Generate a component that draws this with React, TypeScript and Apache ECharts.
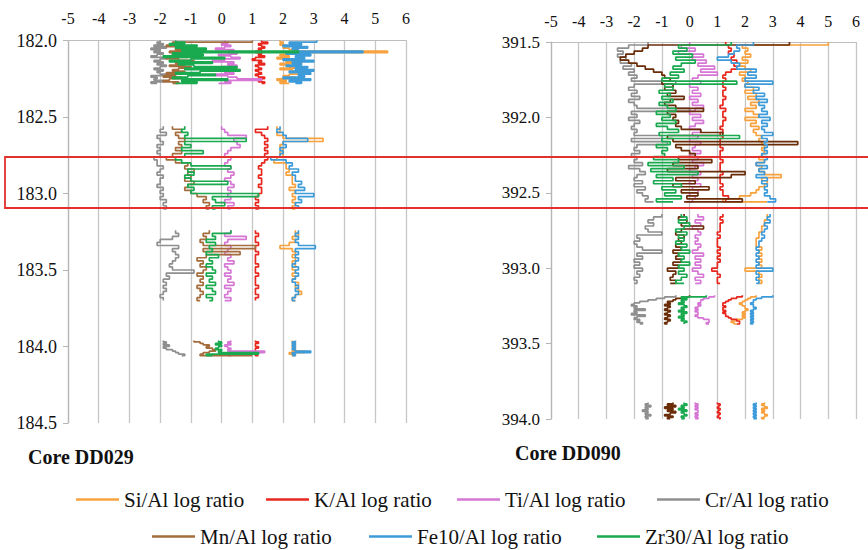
import React, { useEffect, useRef } from "react";
import * as echarts from "echarts";

const SERIES_NAMES = [
  "Si/Al log ratio",
  "K/Al log ratio",
  "Ti/Al log ratio",
  "Cr/Al log ratio",
  "Mn/Al log ratio",
  "Fe10/Al log ratio",
  "Zr30/Al log ratio",
];
const COLORS_DD029 = ["#f7a23e", "#e8281f", "#d676d5", "#8f8f8f", "#a56c3c", "#3d9bd9", "#19a94f"];
const COLORS_DD090 = ["#f7a23e", "#e8281f", "#d676d5", "#8f8f8f", "#6a2d08", "#3d9bd9", "#19a94f"];
const X_TICKS_MIN = -5;
const X_TICKS_MAX = 6;
const CORE_LABELS = ["Core DD029", "Core DD090"];

// ---------- Core DD029 (depth in m, four logged intervals) ----------
const dd029Depths = [
  [182.0, 182.01, 182.02, 182.03, 182.04, 182.05, 182.06, 182.07, 182.08, 182.09, 182.1, 182.11, 182.12, 182.13, 182.14, 182.15, 182.16, 182.17, 182.18, 182.19, 182.2, 182.21, 182.22, 182.23, 182.24, 182.25, 182.26, 182.27, 182.28],
  [182.56, 182.58, 182.6, 182.62, 182.64, 182.66, 182.68, 182.7, 182.72, 182.74, 182.76, 182.78, 182.8, 182.82, 182.84, 182.86, 182.88, 182.9, 182.92, 182.94, 182.96, 182.98, 183.0, 183.02, 183.04, 183.06, 183.08, 183.1],
  [183.24, 183.26, 183.28, 183.3, 183.32, 183.34, 183.36, 183.38, 183.4, 183.42, 183.44, 183.46, 183.48, 183.5, 183.52, 183.54, 183.56, 183.58, 183.6, 183.62, 183.64, 183.66, 183.68, 183.7],
  [183.96, 183.97, 183.98, 183.99, 184.0, 184.01, 184.02, 184.03, 184.04, 184.05, 184.06],
];
const dd029Si = [
  [1.9, 2.0, 1.9, 2.1, 2.0, 2.2, 2.4, 5.4, 2.3, 1.9, 2.2, 1.8, 2.4, 2.1, 2.6, 1.9, 2.2, 2.5, 1.9, 2.3, 2.7, 2.5, 2.2, 2.0, 2.4, 1.8, 2.1, 1.9, 2.2],
  [1.8, 1.9, 1.8, 2.0, 3.3, 2.0, 1.9, 2.0, 1.9, 2.0, 1.8, 1.7, 2.1, 2.1, 2.2, 2.1, 2.3, 2.3, 2.3, 2.4, 2.2, 2.4, 2.3, 2.4, 2.3, 2.4, 2.3, 2.4],
  [2.4, 2.5, 2.3, 2.4, 2.2, 1.9, 2.3, 2.4, 2.3, 2.4, 2.3, 2.4, 2.3, 2.4, 2.3, 2.4, 2.3, 2.5, 2.4, 2.5, 2.6, 2.4, 2.3, 2.4],
  [2.3, 2.4, 2.3, 2.4, 2.3, 2.4, 2.3, 2.7, 2.2, 2.3, 2.4],
];
const dd029K = [
  [1.3, 1.5, 1.2, 1.3, 1.4, 1.2, 1.3, 1.1, 1.3, 1.2, 1.4, 1.1, 1.0, 1.3, 1.2, 1.4, 1.1, 1.2, 1.3, 1.1, 1.2, 1.3, 1.1, 1.2, 1.4, 1.3, 1.2, 1.4, 1.3],
  [1.5, 1.1, 1.3, 1.4, 1.5, 1.4, 1.5, 1.4, 1.5, 1.4, 1.5, 1.4, 1.3, 1.2, 1.3, 1.3, 1.2, 1.3, 1.3, 1.2, 1.3, 1.3, 1.2, 1.1, 1.2, 1.1, 1.2, 1.1],
  [1.1, 1.2, 1.1, 1.1, 1.2, 1.1, 1.1, 1.2, 1.1, 1.1, 1.1, 1.2, 1.1, 1.1, 1.2, 1.1, 1.1, 1.1, 1.2, 1.1, 1.1, 1.2, 1.1, 1.1],
  [1.1, 1.2, 1.1, 1.1, 1.2, 1.1, 1.1, 1.1, 0.3, 1.1, 1.2],
];
const dd029Ti = [
  [0.1, 0.2, 0.0, 0.3, 0.1, -0.2, 0.4, 0.2, 0.5, -0.1, 0.3, 0.6, 0.1, -0.3, 0.4, 0.2, 0.5, 0.0, 0.3, 0.6, 0.1, 0.4, -0.2, 0.2, 0.5, 1.3, 0.1, 0.3, -0.1],
  [0.0, 0.1, 0.2, 0.8, 0.4, 0.5, 0.6, 0.3, 0.2, 0.1, 0.3, 0.2, 0.1, 0.3, 0.2, 0.4, 0.3, 0.1, 0.3, 0.4, 0.2, 0.3, 0.2, 0.3, 0.1, 0.4, 0.2, 0.3],
  [0.3, 0.1, 0.8, 0.2, 0.1, 0.3, 0.2, 0.1, 0.3, 0.2, 0.4, 0.1, 0.2, 0.3, 0.1, 0.3, 0.2, 0.4, 0.1, 0.3, 0.2, 0.1, 0.3, 0.1],
  [0.3, 0.2, 0.3, 0.1, 0.2, 0.3, 0.2, 1.4, 0.2, 0.3, 0.2],
];
const dd029Cr = [
  [-2.0, -2.1, -1.9, -2.2, -1.8, -2.3, -2.0, -2.2, -1.9, -2.1, -2.3, -1.8, -2.0, -2.2, -1.9, -2.1, -1.8, -2.0, -2.2, -1.9, -2.1, -2.0, -1.8, -2.3, -2.1, -2.2, -1.9, -2.3, -2.1],
  [-1.9, -2.0, -1.8, -2.1, -2.0, -1.9, -2.1, -2.0, -2.1, -2.0, -2.2, -2.1, -2.1, -1.9, -2.0, -2.1, -1.9, -2.0, -2.0, -2.1, -1.9, -2.0, -1.9, -2.0, -1.8, -1.9, -1.8, -1.9],
  [-1.5, -1.4, -1.6, -2.0, -2.1, -1.4, -1.6, -1.5, -1.4, -1.5, -1.6, -1.7, -1.6, -0.9, -1.8, -1.7, -1.9, -1.8, -1.9, -1.8, -1.9, -2.0, -1.9, -1.9],
  [-1.9, -1.8, -1.9, -1.7, -1.9, -1.8, -1.6, -1.5, -1.4, -1.2, -1.3],
];
const dd029Mn = [
  [1.0, -1.6, -1.4, -1.8, -1.2, -1.5, -1.0, -1.7, -1.3, -1.6, -1.1, -1.8, -1.4, -0.9, -1.5, -1.2, -1.7, -1.0, -1.4, -1.6, -1.2, -1.8, -1.5, -1.9, -1.3, -1.7, -1.9, -1.4, -1.6],
  [-1.6, -1.3, -1.5, -1.4, -1.2, -1.4, -1.3, -1.5, -1.3, -1.6, -1.8, -1.5, -1.1, -1.2, -0.9, -1.1, -1.0, -1.2, -0.9, -1.1, -1.2, -1.0, -0.8, -0.5, -0.6, -0.4, -0.5, -0.4],
  [-0.4, -0.6, -0.5, -0.7, -0.6, 1.1, -0.6, 0.6, -0.5, -0.8, -0.6, -0.7, -0.5, -0.6, -0.8, -0.6, -0.7, -0.6, -0.8, -0.7, -0.6, -0.7, -0.8, -0.7],
  [-0.9, -0.7, -0.6, -0.4, -0.5, -0.3, -0.2, -0.4, -0.6, -0.7, 1.0],
];
const dd029Fe = [
  [3.1, 2.2, 2.6, 2.0, 2.8, 2.3, 2.5, 4.6, 2.1, 2.9, 2.4, 2.7, 2.0, 3.0, 2.3, 2.6, 2.1, 2.8, 2.4, 3.0, 2.2, 2.9, 2.5, 2.7, 2.0, 2.9, 2.2, 2.6, 2.4],
  [1.9, 1.8, 2.0, 2.1, 2.8, 2.0, 2.1, 1.9, 2.0, 1.9, 1.6, 2.1, 2.3, 2.2, 2.5, 2.3, 2.4, 2.4, 2.6, 2.5, 2.7, 2.4, 3.0, 2.5, 2.6, 2.4, 2.5, 2.5],
  [2.5, 2.4, 2.5, 2.4, 2.5, 3.05, 2.4, 2.5, 2.4, 2.5, 2.4, 2.3, 2.5, 2.4, 2.5, 2.4, 2.3, 2.4, 2.5, 2.4, 2.5, 2.4, 2.3, 2.4],
  [2.4, 2.3, 2.4, 2.3, 2.4, 2.3, 2.4, 2.9, 2.3, 2.4, 2.3],
];
const dd029Zr = [
  [-1.5, -1.2, -1.7, -0.8, -1.5, -0.5, -1.3, 2.5, -1.6, -0.6, -1.9, 0.1, -1.0, -1.7, -0.3, -1.4, -0.9, 0.5, -1.2, 0.6, -0.7, -1.5, -0.2, -1.1, -1.6, 0.2, -1.3, -0.8, -1.5],
  [-1.2, -1.3, -1.1, -1.2, 0.8, -1.2, -1.0, -1.3, -0.6, -1.2, -1.5, -1.3, -1.0, 0.3, -1.1, -0.9, -1.2, -1.0, 0.2, -1.1, -0.9, -1.0, 1.2, -0.3, -0.2, 0.1, -0.3, -0.2],
  [0.3, -0.3, -0.2, -0.5, -0.2, -0.4, -0.3, -0.5, -0.1, -0.4, -0.3, -0.5, -0.3, -0.2, -0.5, -0.3, -0.4, -0.2, -0.5, -0.3, -0.2, -0.5, -0.3, -0.4],
  [-0.1, 0.0, -0.2, 0.0, -0.1, -0.2, 0.0, -0.1, 1.2, -0.5, -0.3],
];

// ---------- Core DD090 ----------
const dd090Depths = [
  [391.5, 391.52, 391.54, 391.56, 391.58, 391.6, 391.62, 391.64, 391.66, 391.68, 391.7, 391.72, 391.74, 391.76, 391.78, 391.8, 391.82, 391.84, 391.86, 391.88, 391.9, 391.92, 391.94, 391.96, 391.98, 392.0, 392.02, 392.04, 392.06, 392.08, 392.1, 392.12, 392.14, 392.16, 392.18, 392.2, 392.22, 392.24, 392.26, 392.28, 392.3, 392.32, 392.34, 392.36, 392.38, 392.4, 392.42, 392.44, 392.46, 392.48, 392.5, 392.52, 392.54, 392.56],
  [392.64, 392.66, 392.68, 392.7, 392.72, 392.74, 392.76, 392.78, 392.8, 392.82, 392.84, 392.86, 392.88, 392.9, 392.92, 392.94, 392.96, 392.98, 393.0, 393.02, 393.04, 393.06, 393.08, 393.1],
  [393.18, 393.19, 393.2, 393.21, 393.22, 393.23, 393.24, 393.25, 393.26, 393.27, 393.28, 393.29, 393.3, 393.31, 393.32, 393.33, 393.34, 393.35, 393.36, 393.37],
  [393.89, 393.9, 393.91, 393.92, 393.93, 393.94, 393.95, 393.96, 393.97, 393.98, 393.99, 394.0],
];
const dd090Si = [
  [5.0, 1.9, 2.1, 2.0, 2.2, 1.9, 2.1, 1.8, 2.0, 2.2, 1.8, 2.0, 1.9, 2.1, 2.0, 2.3, 2.0, 2.4, 2.1, 2.5, 2.2, 2.4, 2.0, 2.3, 2.5, 2.0, 2.4, 2.2, 2.5, 2.3, 2.4, 2.6, 2.5, 2.6, 2.7, 2.6, 2.7, 2.6, 2.5, 2.7, 2.4, 2.6, 2.5, 2.7, 3.3, 2.6, 2.8, 2.7, 2.5, 2.4, 2.2, 1.8, 1.2, 2.8],
  [2.8, 2.8, 2.7, 2.7, 2.6, 2.6, 2.5, 2.5, 2.4, 2.4, 2.4, 2.6, 2.5, 2.6, 2.5, 2.6, 2.5, 2.6, 2.0, 2.5, 2.6, 2.5, 2.6, 2.5],
  [2.4, 2.2, 2.1, 2.0, 1.9, 1.8, 1.9, 2.0, 2.0, 2.1, 2.0, 1.9, 2.0, 1.9, 2.0, 1.9, 1.7, 1.5, 1.6, 1.7],
  [2.7, 2.6, 2.7, 2.8, 2.6, 2.7, 2.6, 2.7, 2.8, 2.7, 2.6, 2.7],
];
const dd090K = [
  [1.3, 1.4, 1.5, 1.4, 1.6, 1.5, 1.7, 1.6, 1.7, 1.5, 1.3, 1.2, 1.3, 1.2, 1.2, 1.3, 1.2, 1.2, 1.3, 1.2, 1.2, 1.1, 1.3, 1.2, 1.2, 1.3, 1.2, 1.2, 1.1, 1.2, 1.1, 1.2, 1.1, 1.1, 1.1, 1.2, 1.1, 1.1, 1.1, 1.2, 1.1, 1.1, 1.1, 1.2, 1.1, 1.1, 1.1, 1.2, 1.1, 1.2, 1.2, 1.4, 1.3, 1.3],
  [1.2, 1.1, 1.2, 1.1, 1.1, 1.1, 1.0, 1.1, 1.0, 1.0, 1.0, 1.1, 1.0, 1.1, 1.0, 1.1, 1.0, 1.0, 0.8, 1.0, 1.1, 1.0, 1.0, 1.1],
  [1.9, 1.7, 1.5, 1.4, 1.3, 1.2, 1.2, 1.3, 1.2, 1.2, 1.3, 1.2, 1.3, 1.3, 1.4, 1.5, 1.7, 1.8, 1.8, 1.7],
  [1.0, 1.1, 1.05, 1.0, 1.1, 1.05, 1.0, 1.1, 1.05, 1.0, 1.1, 1.05],
];
const dd090Ti = [
  [0.0, -0.3, 0.2, -0.4, 0.5, 0.1, 0.6, 0.3, 0.9, 0.4, 1.0, 0.3, 0.1, 0.4, 0.0, 0.3, 0.1, 0.4, 0.0, 0.3, 0.1, 0.5, 0.2, 0.0, 0.4, 0.1, 0.5, 0.2, 0.0, 0.4, 0.1, 0.3, 0.0, 0.4, 0.2, 0.1, 0.4, 0.0, 0.3, 0.1, 0.5, 0.2, 0.0, 0.4, 0.1, 0.3, 0.0, 0.4, 0.1, 0.3, 0.0, 0.2, 0.1, -0.1],
  [0.3, 0.5, 0.2, 0.4, 0.1, 0.3, 0.4, 0.2, 0.3, 0.2, 0.4, 0.3, 0.1, 0.5, 0.2, 0.4, 0.2, 0.4, 0.1, 0.3, 0.5, 0.2, 0.4, 0.2],
  [0.9, 0.7, 0.5, 0.4, 0.4, 0.3, 0.4, 0.3, 0.2, 0.3, 0.2, 0.3, 0.3, 0.2, 0.3, 0.5, 0.7, 0.7, 0.6, 0.7],
  [0.2, 0.3, 0.2, 0.3, 0.2, 0.3, 0.3, 0.2, 0.3, 0.2, 0.3, 0.2],
];
const dd090Cr = [
  [-1.5, -2.2, -2.6, -2.4, -2.6, -2.3, -2.5, -2.1, -2.4, -2.0, -2.2, -1.9, -2.1, -0.5, -2.0, -2.2, -1.9, -2.1, -1.8, -2.2, -2.0, -1.9, 0.0, -2.1, -1.9, -2.2, -1.8, -2.0, -2.1, -1.9, -2.0, -1.0, -2.1, -0.8, -1.9, -2.0, -1.8, -2.1, -1.9, -2.0, -1.7, -2.2, -1.8, -1.6, -1.9, -2.0, -1.7, -2.0, -1.6, -1.9, -1.7, -1.5, -1.6, -1.3],
  [-1.0, -1.3, -1.5, -1.3, -1.6, -1.5, -1.0, -1.9, -1.8, -2.0, -1.9, -1.7, -1.0, -1.9, -1.7, -2.0, -1.8, -2.0, -1.7, -1.9, -1.8, -2.0, -1.9, -2.0],
  [-0.5, -0.9, -1.2, -1.5, -1.8, -2.0, -2.1, -1.9, -2.0, -1.6, -2.0, -1.9, -2.1, -1.6, -1.9, -2.0, -1.8, -1.9, -1.7, -1.8],
  [-1.5, -1.6, -1.4, -1.6, -1.5, -1.7, -1.5, -1.6, -1.4, -1.6, -1.5, -1.6],
];
const dd090Mn = [
  [3.6, -1.5, -1.7, -2.0, -2.3, -2.5, -2.2, -1.9, -1.6, -1.3, -1.0, -0.9, -0.7, -1.0, -0.6, -0.9, -0.5, -0.8, -0.2, -0.7, -0.9, -0.5, 0.5, -0.8, -0.5, -0.6, -0.4, -0.5, -0.3, 0.4, 1.2, -0.8, -0.6, 3.9, -0.5, -0.3, 0.0, 0.2, -0.4, 0.8, -0.6, 0.3, -0.8, 2.0, 1.5, -0.5, 0.2, -0.6, 0.7, -0.3, 0.3, -0.1, 1.9, -0.2],
  [-0.2, -0.4, -0.1, -0.3, 0.5, -0.3, -0.5, -0.2, -0.4, -0.3, -0.5, -0.3, -0.6, -0.4, -0.5, -0.3, -0.6, -0.4, -0.8, -0.5, -0.6, -0.7, -0.5, -0.7],
  [0.0, -0.2, -0.5, -0.6, -0.8, -0.7, -0.9, -0.7, -0.8, -0.9, -0.7, -0.8, -0.9, -0.7, -0.8, -0.9, -0.7, -0.8, -0.9, -0.8],
  [-0.6, -0.8, -0.5, -0.9, -0.6, -0.8, -0.5, -0.7, -0.9, -0.6, -0.8, -0.7],
];
const dd090Fe = [
  [2.3, 1.7, 1.8, 1.6, 1.4, 1.0, 1.5, 1.8, 1.7, 2.4, 2.1, 2.4, 2.0, 3.0, 2.0, 2.5, 2.3, 2.7, 2.4, 2.8, 2.5, 2.7, 2.6, 2.8, 2.5, 2.9, 2.6, 2.8, 2.6, 2.7, 3.0, 2.6, 2.8, 2.7, 2.8, 2.7, 2.8, 2.6, 2.8, 2.7, 2.4, 2.8, 2.5, 2.7, 2.4, 2.8, 2.6, 2.8, 2.7, 2.8, 2.7, 2.9, 3.1, 2.8],
  [2.9, 2.8, 2.9, 2.7, 2.8, 2.7, 2.6, 2.7, 2.6, 2.5, 2.5, 2.4, 2.5, 2.4, 2.5, 2.4, 2.5, 2.4, 3.0, 2.4, 2.5, 2.4, 2.5, 2.4],
  [3.0, 2.6, 2.4, 2.3, 2.3, 2.2, 2.3, 2.3, 2.4, 2.3, 2.2, 2.3, 2.2, 2.3, 2.2, 2.3, 2.2, 2.3, 2.2, 2.3],
  [2.4, 2.3, 2.4, 2.3, 2.4, 2.3, 2.4, 2.3, 2.4, 2.3, 2.4, 2.3],
];
const dd090Zr = [
  [1.5, -0.4, -0.1, -0.6, 0.1, -0.5, 0.2, -0.3, -0.6, -0.2, -0.7, -0.4, -1.0, 1.7, -0.9, -0.6, -1.1, -0.7, -1.0, -0.6, -1.1, -0.8, -0.5, -1.2, -0.7, -1.0, -0.5, -1.2, -0.8, -0.4, -1.1, 1.8, -1.0, -0.7, -1.2, -0.8, -1.0, -0.9, -1.3, -0.4, -1.5, -0.2, -1.4, 0.3, -1.2, -0.6, -1.3, -0.3, -1.0, -0.5, -0.9, -0.3, -1.2, -0.6],
  [-0.3, -0.1, -0.4, 0.0, -0.2, -0.5, -0.1, -0.4, -0.2, -0.5, -0.1, -0.3, 0.0, -0.4, -0.2, -0.3, 0.0, -0.4, -0.2, -0.4, -0.1, -0.3, -0.5, -0.2],
  [0.6, -0.3, -0.1, -0.3, -0.2, -0.4, -0.2, -0.1, -0.3, -0.2, -0.4, -0.1, -0.3, -0.2, -0.4, -0.2, -0.3, -0.1, -0.2, -0.2],
  [-0.2, -0.1, -0.3, -0.2, -0.4, -0.1, -0.3, -0.2, -0.1, -0.3, -0.2, -0.3],
];

const DD029_VALUES = [dd029Si, dd029K, dd029Ti, dd029Cr, dd029Mn, dd029Fe, dd029Zr];
const DD090_VALUES = [dd090Si, dd090K, dd090Ti, dd090Cr, dd090Mn, dd090Fe, dd090Zr];

const SERIF = "Liberation Serif";

function buildData(depths: number[][], vals: number[][]) {
  const out: any[] = [];
  depths.forEach((seg, s) => {
    if (s > 0) out.push(["-", "-"]);
    seg.forEach((d, i) => out.push([vals[s][i], d]));
  });
  return out;
}

function makeXAxis(gridIndex: number, margin: number) {
  return {
    type: "value",
    gridIndex,
    position: "top",
    min: X_TICKS_MIN,
    max: X_TICKS_MAX,
    interval: 1,
    axisLine: { show: true, onZero: false, lineStyle: { color: "#bdbdbd", width: 1.2 } },
    axisTick: { show: false },
    axisLabel: { color: "#111", fontSize: 16, fontFamily: SERIF, margin },
    splitLine: { show: true, lineStyle: { color: "#c6c6c6", width: 1.3 } },
  };
}

function makeYAxis(gridIndex: number, min: number, max: number, fontSize: number) {
  return {
    type: "value",
    gridIndex,
    inverse: true,
    min,
    max,
    interval: 0.5,
    axisLine: { show: true, onZero: false, lineStyle: { color: "#b5b5b5", width: 1.2 } },
    axisTick: { show: true, length: 5, lineStyle: { color: "#b5b5b5" } },
    axisLabel: {
      color: "#111",
      fontSize,
      fontFamily: SERIF,
      margin: 11,
      formatter: (v: number) => v.toFixed(1),
    },
    splitLine: { show: false },
  };
}

const LEGEND_POS = [
  { left: 76, top: 489 },
  { left: 266, top: 489 },
  { left: 457, top: 489 },
  { left: 657, top: 489 },
  { left: 152, top: 526 },
  { left: 369, top: 526 },
  { left: 597, top: 526 },
];

export default function App() {
  const ref = useRef<HTMLDivElement>(null);
  useEffect(() => {
    if (!ref.current) return;
    const chart = echarts.init(ref.current, null, { renderer: "svg" });
    const series: any[] = [];
    const addSeries = (grid: number, depths: number[][], values: number[][][], colors: string[]) => {
      SERIES_NAMES.forEach((name, k) => {
        series.push({
          type: "line",
          name,
          xAxisIndex: grid,
          yAxisIndex: grid,
          symbol: "none",
          step: "start",
          data: buildData(depths, values[k]),
          lineStyle: { color: colors[k], width: 1.7 },
          itemStyle: { color: colors[k] },
        });
      });
    };
    addSeries(0, dd029Depths, DD029_VALUES, COLORS_DD029);
    addSeries(1, dd090Depths, DD090_VALUES, COLORS_DD090);
    const legends = SERIES_NAMES.map((name, k) => ({
      data: [name],
      left: LEGEND_POS[k].left,
      top: LEGEND_POS[k].top,
      padding: 0,
      icon: "rect",
      itemWidth: 43,
      itemHeight: 2.5,
      textStyle: { color: "#111", fontSize: 21, fontFamily: SERIF },
      selectedMode: false,
    }));
    chart.setOption({
      animation: false,
      backgroundColor: "#ffffff",
      textStyle: { fontFamily: SERIF },
      grid: [
        { left: 68, top: 40.5, width: 338, height: 382.5, containLabel: false },
        { left: 551, top: 42, width: 305, height: 377, containLabel: false },
      ],
      xAxis: [makeXAxis(0, 14), makeXAxis(1, 13)],
      yAxis: [makeYAxis(0, 182.0, 184.5, 18), makeYAxis(1, 391.5, 394.0, 17)],
      legend: legends,
      series,
      graphic: [
        {
          type: "text",
          left: 28,
          top: 447,
          style: { text: CORE_LABELS[0], fontSize: 20, fontWeight: "bold", fontFamily: SERIF, fill: "#111" },
        },
        {
          type: "text",
          left: 515,
          top: 443,
          style: { text: CORE_LABELS[1], fontSize: 20, fontWeight: "bold", fontFamily: SERIF, fill: "#111" },
        },
        {
          type: "rect",
          z: 100,
          shape: { x: 5, y: 157, width: 880, height: 51 },
          style: { fill: "none", stroke: "#e2312c", lineWidth: 1.8 },
        },
      ],
    });
    return () => chart.dispose();
  }, []);
  return <div ref={ref} style={{ position: "absolute", left: 0, top: 0, width: 868, height: 550 }} />;
}
